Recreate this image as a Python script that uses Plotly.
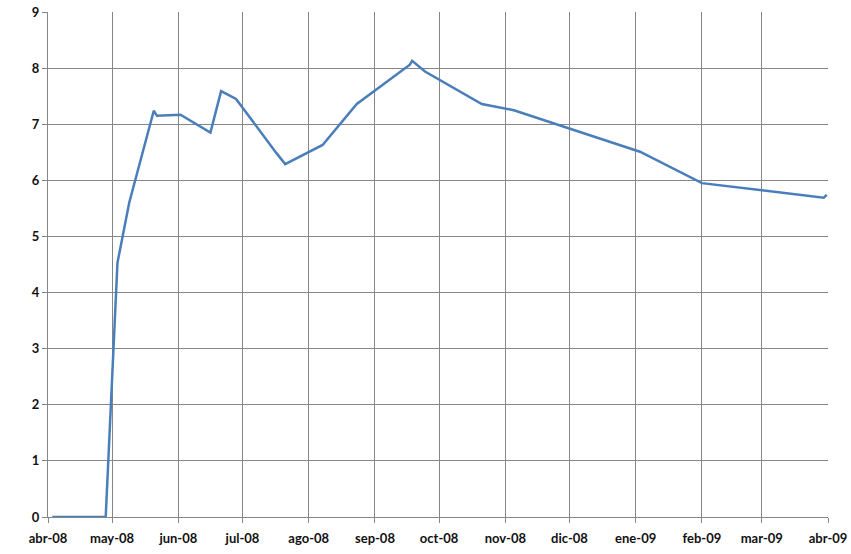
import plotly.graph_objects as go

dates = ["2008-04-03", "2008-04-28", "2008-05-03 12:00", "2008-05-09", "2008-05-20 12:00",
         "2008-05-22", "2008-06-02", "2008-06-16", "2008-06-21", "2008-06-28",
         "2008-07-17", "2008-07-21", "2008-08-07 12:00", "2008-08-23 12:00",
         "2008-09-17 08:00", "2008-09-18 10:00", "2008-09-24 10:00", "2008-10-21",
         "2008-11-05", "2009-01-03", "2009-02-01", "2009-03-30", "2009-03-31 10:00"]
values = [0, 0, 4.53, 5.6, 7.24, 7.15, 7.17, 6.85, 7.59, 7.45, 6.48, 6.29, 6.63, 7.36,
          8.06, 8.13, 7.94, 7.36, 7.25, 6.51, 5.95, 5.69, 5.74]

tick_dates = ["2008-04-01", "2008-05-01", "2008-06-01", "2008-07-01", "2008-08-01",
              "2008-09-01", "2008-10-01", "2008-11-01", "2008-12-01", "2009-01-01",
              "2009-02-01", "2009-03-01", "2009-04-01"]
tick_labels = ["abr-08", "may-08", "jun-08", "jul-08", "ago-08", "sep-08", "oct-08",
               "nov-08", "dic-08", "ene-09", "feb-09", "mar-09", "abr-09"]

fig = go.Figure(go.Scatter(x=dates, y=values, mode="lines",
                           line=dict(color="#4A7EBB", width=2.5)))

grid = "#868686"
tickfont = dict(family="Lato, Open Sans, sans-serif", size=13, color="#111111", weight="bold")
fig.update_layout(
    width=851, height=554,
    margin=dict(l=48, r=23, t=12, b=37, autoexpand=False),
    paper_bgcolor="white", plot_bgcolor="white",
    showlegend=False,
    font=dict(family="Lato, Open Sans, sans-serif", size=13, color="#111111"),
)
fig.update_xaxes(type="date", range=["2008-04-01", "2009-04-01"],
                 tickvals=tick_dates, ticktext=tick_labels, tickfont=tickfont,
                 showgrid=True, gridcolor=grid, gridwidth=1,
                 showline=True, linecolor=grid, linewidth=1,
                 ticks="outside", ticklen=5, tickcolor=grid,
                 ticklabelstandoff=4, ticklabeloverflow="allow",
                 zeroline=False, automargin=False)
fig.update_yaxes(range=[0, 9], tickvals=list(range(10)), tickfont=tickfont,
                 showgrid=True, gridcolor=grid, gridwidth=1,
                 showline=True, linecolor=grid, linewidth=1,
                 ticks="outside", ticklen=5, tickcolor=grid,
                 ticklabeloverflow="allow",
                 zeroline=False, automargin=False)
fig.write_html("out.html", config={"displayModeBar": False},
               post_script="document.body.style.margin='0';")
